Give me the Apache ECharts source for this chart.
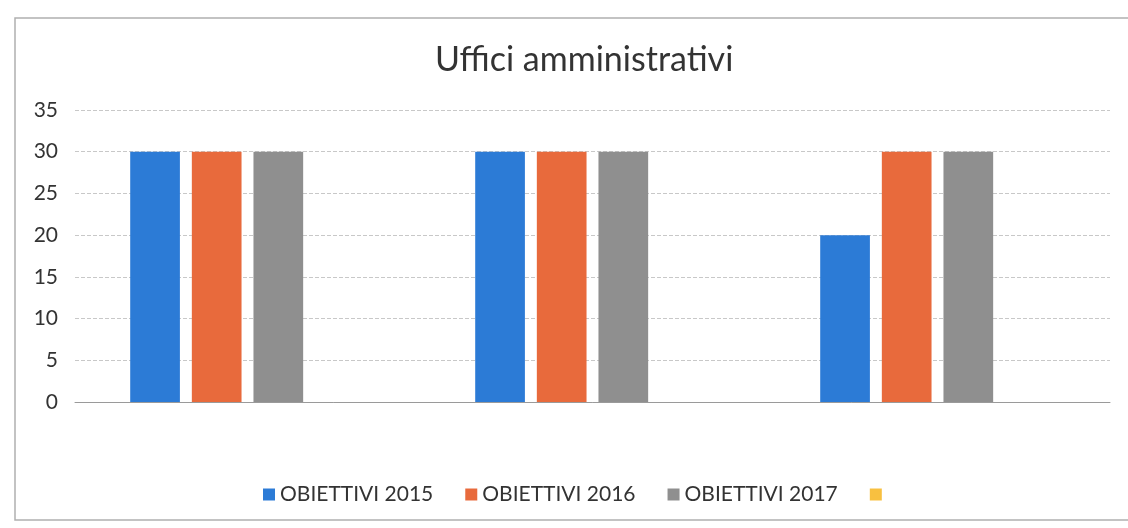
<!DOCTYPE html>
<html>
<head>
<meta charset="utf-8">
<script src="https://cdn.jsdelivr.net/npm/echarts@6/dist/echarts.min.js"></script>
<style>
html,body{margin:0;padding:0;background:#fff;}
#chart{width:1128px;height:528px;}
</style>
</head>
<body>
<div id="chart"></div>
<script>
// categories (labels are blank in the scanned source)
var categories = ['', '', ''];
var seriesNames = ['OBIETTIVI 2015', 'OBIETTIVI 2016', 'OBIETTIVI 2017', ' '];
var obiettivi2015 = [30, 30, 20];
var obiettivi2016 = [30, 30, 30];
var obiettivi2017 = [30, 30, 30];
var extraSeries = [null, null, null];
var yTicks = { min: 0, max: 35, interval: 5 };

var colors = ['#2C7BD6', '#E86A3C', '#8F8F8F', '#F8C040'];
var font = 'Lato, "Open Sans", sans-serif';

var myChart = echarts.init(document.getElementById('chart'));

function barSeries(name, data, i) {
	return {
		name: name,
		type: 'bar',
		data: data,
		barGap: '24%',
		barCategoryGap: '32%',
		itemStyle: { color: colors[i] }
	};
}

var option = {
	animation: false,
	color: colors,
	textStyle: { fontFamily: font },
	title: {
		text: 'Uffici amministrativi',
		left: 430,
		top: 38,
		textStyle: { fontFamily: font, fontSize: 34, fontWeight: 'normal', color: '#333' }
	},
	legend: {
		left: 258,
		top: 479,
		itemWidth: 12,
		itemHeight: 12,
		itemGap: 32,
		icon: 'rect',
		textStyle: { fontFamily: font, fontSize: 21, color: '#333' },
		data: seriesNames
	},
	grid: { left: 75, right: 18, top: 110, bottom: 126 },
	xAxis: {
		type: 'category',
		data: categories,
		axisLine: { lineStyle: { color: '#9a9a9a' } },
		axisTick: { show: false },
		axisLabel: { show: false }
	},
	yAxis: {
		type: 'value',
		min: yTicks.min,
		max: yTicks.max,
		interval: yTicks.interval,
		axisLine: { show: false },
		axisTick: { show: false },
		axisLabel: { fontFamily: font, fontSize: 21, color: '#333', margin: 17 },
		splitLine: { lineStyle: { color: '#c8c8c8', type: 'dashed', width: 1 } }
	},
	graphic: [{
		type: 'rect',
		shape: { x: 15, y: 18, width: 1130, height: 502 },
		style: { fill: 'none', stroke: '#b0b0b0', lineWidth: 1.5 },
		silent: true
	}],
	series: [
		barSeries(seriesNames[0], obiettivi2015, 0),
		barSeries(seriesNames[1], obiettivi2016, 1),
		barSeries(seriesNames[2], obiettivi2017, 2),
		barSeries(seriesNames[3], extraSeries, 3)
	]
};
option && myChart.setOption(option);
</script>
</body>
</html>
